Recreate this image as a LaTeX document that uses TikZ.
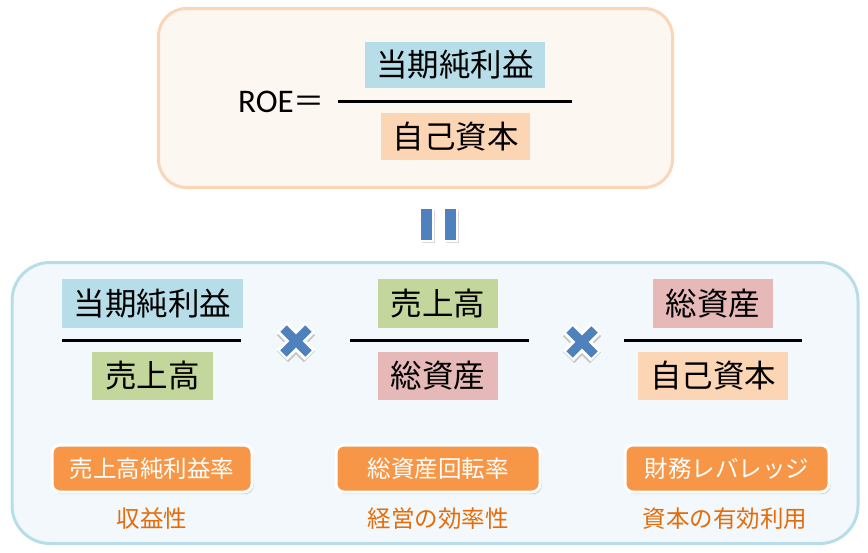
\documentclass[tikz,border=0pt]{standalone}
\usepackage{fontspec}
\setmainfont{Carlito}
\newfontfamily\cjk{Noto Sans CJK JP}
\usetikzlibrary{shadows}
\definecolor{lblue}{HTML}{B7DDE8}
\definecolor{lgreen}{HTML}{C3D69B}
\definecolor{lpink}{HTML}{E6B9B8}
\definecolor{lpeach}{HTML}{FCD5B5}
\definecolor{orng}{HTML}{F79646}
\definecolor{orngtxt}{HTML}{E46C0A}
\definecolor{topfill}{HTML}{FDF7F2}
\definecolor{topedge}{HTML}{FAD6B6}
\definecolor{botfill}{HTML}{F2F8FB}
\definecolor{botedge}{HTML}{B7DDE8}
\definecolor{eqblue}{HTML}{4F81BD}
\tikzset{
  term/.style={inner sep=0pt, font=\cjk\fontsize{31.5}{34}\selectfont, text=black, minimum height=48pt},
  fracline/.style={line width=3pt, black},
  btn/.style={rounded corners=8pt, fill=orng, draw=white, line width=3pt, minimum height=47pt, inner sep=0pt,
    text=white, font=\cjk\fontsize{23.5}{26}\selectfont, drop shadow={shadow xshift=1.5pt, shadow yshift=-2pt, opacity=0.35}},
  captxt/.style={text=orngtxt, font=\cjk\fontsize{23.5}{26}\selectfont, inner sep=0pt},
  eqbar/.style={fill=eqblue, draw=white, line width=2.5pt, minimum width=13pt, minimum height=33pt, inner sep=0pt,
    drop shadow={shadow xshift=1.5pt, shadow yshift=-2pt, opacity=0.3}},
}
\newcommand{\timesmark}[2]{%
  \begin{scope}[shift={(#1,#2)}]
    \draw[black!40, opacity=0.5, line width=16pt] (-13.5,-13.5+2) -- (13.5,13.5+2) (-13.5,13.5+2) -- (13.5,-13.5+2);
    \draw[white, line width=15pt] (-14,-14) -- (14,14) (-14,14) -- (14,-14);
    \draw[eqblue, line width=9pt] (-12.5,-12.5) -- (12.5,12.5) (-12.5,12.5) -- (12.5,-12.5);
  \end{scope}}
\begin{document}
\begin{tikzpicture}[x=1pt,y=-1pt]
\useasboundingbox (0,0) rectangle (868,552);
% top box
\node[draw=topedge, fill=topfill, line width=3pt, rounded corners=28pt, minimum width=514pt, minimum height=179pt] (topbox) at (415.5,98) {};
\node[anchor=east, font=\fontsize{33}{36}\selectfont, inner sep=0pt] (roe) at (325,102) {ROE{\cjk\fontsize{31}{34}\selectfont ＝}};
\node[term, fill=lblue, minimum width=180pt, minimum height=46pt] (tn) at (455,65) {当期純利益};
\node[term, fill=lpeach, minimum width=149pt, minimum height=47pt] (td) at (455.5,136.5) {自己資本};
\coordinate (tl1) at (338,101); \coordinate (tl2) at (572,101);
\draw[fracline] (tl1) -- (tl2);
% equals bars
\node[eqbar] (eq1) at (426.5,224.5) {};
\node[eqbar] (eq2) at (450.5,224.5) {};
% bottom box
\node[draw=botedge, fill=botfill, line width=3pt, rounded corners=38pt, minimum width=846pt, minimum height=281pt] (botbox) at (435,403) {};
% column 1
\node[term, fill=lblue, minimum width=181pt, minimum height=49pt] (n1) at (152.5,303.5) {当期純利益};
\node[term, fill=lgreen, minimum width=121pt] (d1) at (152.5,376) {売上高};
\coordinate (a1) at (62,340); \coordinate (b1) at (241,340);
\draw[fracline] (a1) -- (b1);
% column 2
\node[term, fill=lgreen, minimum width=120pt, minimum height=49pt] (n2) at (438,303.5) {売上高};
\node[term, fill=lpink, minimum width=120pt] (d2) at (438,376) {総資産};
\coordinate (a2) at (350,340); \coordinate (b2) at (529,340);
\draw[fracline] (a2) -- (b2);
% column 3
\node[term, fill=lpink, minimum width=120pt, minimum height=49pt] (n3) at (713,303.5) {総資産};
\node[term, fill=lpeach, minimum width=150pt] (d3) at (713,376) {自己資本};
\coordinate (a3) at (624,340); \coordinate (b3) at (802,340);
\draw[fracline] (a3) -- (b3);
% times marks
\timesmark{296}{341}
\timesmark{582}{342}
% buttons
\node[btn, minimum width=200pt] (p1) at (152,468.5) {売上高純利益率};
\node[btn, minimum width=204pt] (p2) at (438,468.5) {総資産回転率};
\node[btn, minimum width=204pt] (p3) at (727,468.5) {財務レバレッジ};
\node[captxt] (c1) at (152,519) {収益性};
\node[captxt] (c2) at (438,519) {経営の効率性};
\node[captxt] (c3) at (725,519) {資本の有効利用};
\end{tikzpicture}
\end{document}
